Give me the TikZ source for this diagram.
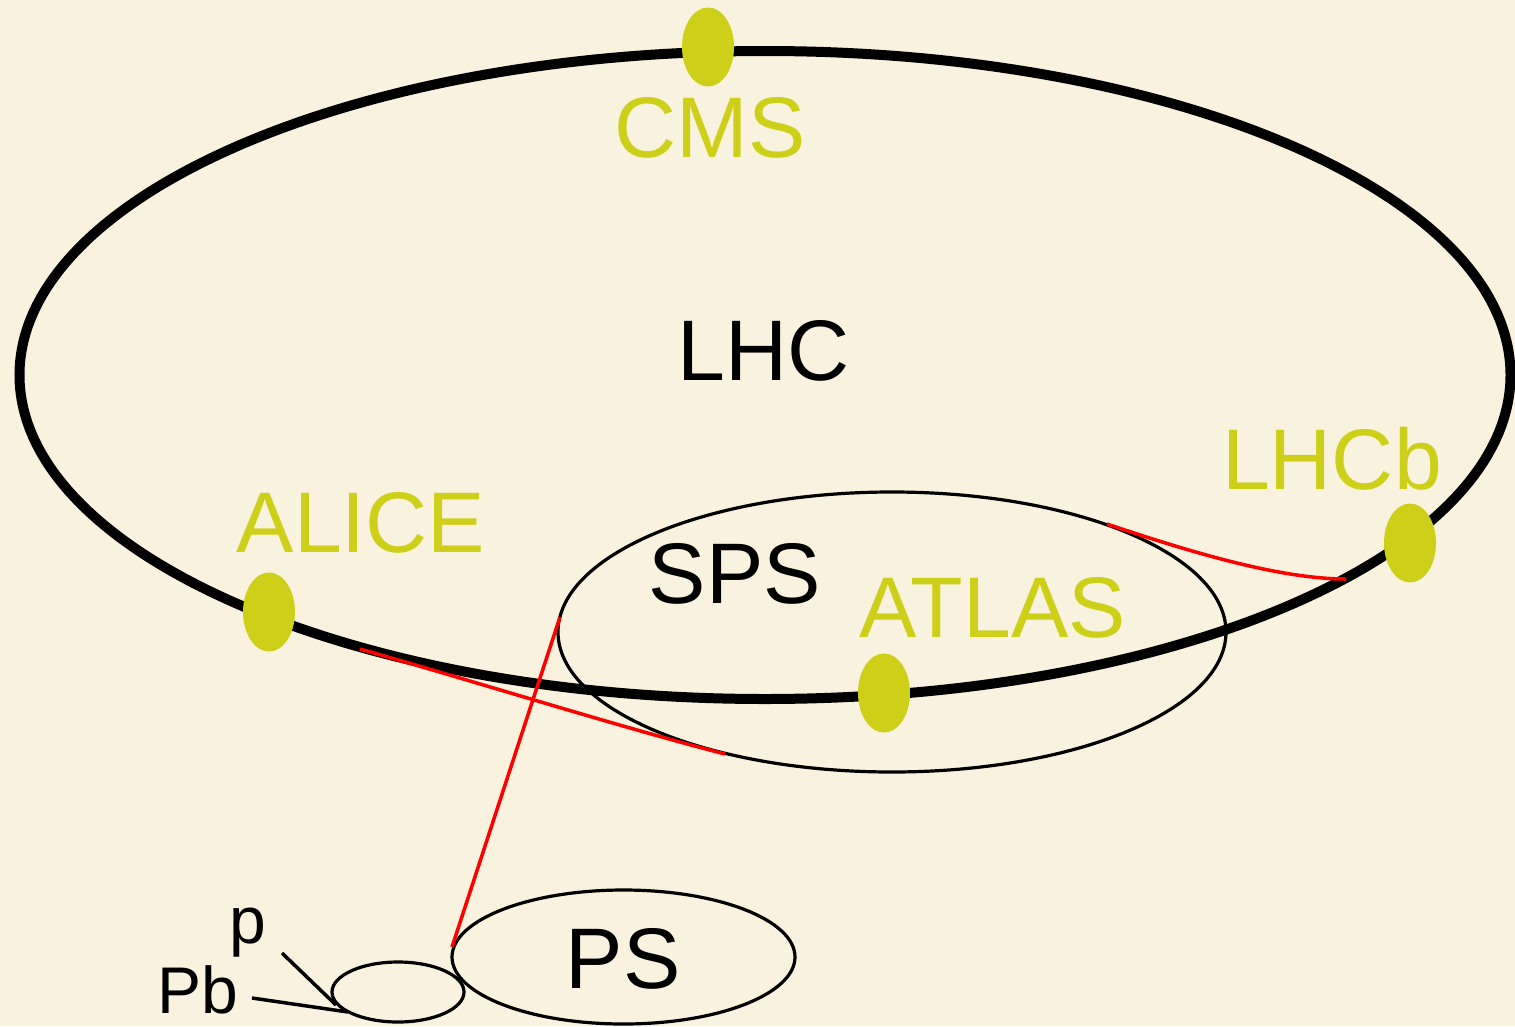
\documentclass[tikz,border=0pt]{standalone}
\usepackage{fontspec}
\setmainfont{Liberation Sans}
\usepackage{tikz}
\usetikzlibrary{shapes.geometric}
\definecolor{parchment}{RGB}{249,242,222}
\definecolor{exptyellow}{RGB}{205,207,24}
\tikzset{
  ring/.style={draw=black, line width=3.2pt},
  mainring/.style={draw=black, line width=10pt},
  beam/.style={draw=red, line width=3.5pt},
  feed/.style={draw=black, line width=3.5pt},
  expt/.style={ellipse, fill=exptyellow, draw=none, inner sep=0pt,
    minimum width=52pt, minimum height=79pt},
  ringname/.style={anchor=base, inner sep=0pt,
    font=\fontsize{86pt}{92pt}\selectfont},
  exptname/.style={ringname, text=exptyellow},
  ionname/.style={anchor=base, inner sep=0pt,
    font=\fontsize{66pt}{72pt}\selectfont}
}
\begin{document}
\begin{tikzpicture}[x=1pt,y=-1pt]
\useasboundingbox (0,0) rectangle (1515,1026);
\fill[parchment] (0,0) rectangle (1515,1026);
% rings
\draw[mainring] (765,375) ellipse [x radius=745.5pt, y radius=324pt];
\draw[ring] (892,632) ellipse [x radius=334pt, y radius=140pt];
\draw[ring] (623.5,957) ellipse [x radius=171.5pt, y radius=67pt];
\draw[ring] (398,992) ellipse [x radius=66pt, y radius=30pt];
% transfer points
\coordinate (psout) at (452,947);
\coordinate (spsin) at (560,617);
\coordinate (spsoutA) at (725,754);
\coordinate (lhcinA) at (360,649);
\coordinate (spsoutB) at (1107,524);
\coordinate (lhcinB) at (1346,579);
\coordinate (pin) at (336,1005);
\coordinate (pbin) at (348,1012);
\coordinate (pstart) at (282,953);
\coordinate (pbstart) at (252,998);
\draw[beam] (psout)--(spsin);
\draw[beam] (lhcinA) .. controls (480,683) and (620,727) .. (spsoutA);
\draw[beam] (spsoutB) .. controls (1190,552) and (1280,579) .. (lhcinB);
\draw[feed] (pstart)--(pin);
\draw[feed] (pbstart)--(pbin);
% experiments
\node[expt] (cmsdot) at (708,47) {};
\node[expt] (alicedot) at (269,612) {};
\node[expt] (atlasdot) at (884,693) {};
\node[expt] (lhcbdot) at (1410,543) {};
\node[exptname] (cms) at (710,157) {CMS};
\node[exptname] (alice) at (361,552) {ALICE};
\node[exptname] (atlas) at (993,637) {ATLAS};
\node[exptname] (lhcb) at (1332,489) {LHCb};
% names
\node[ringname] (lhc) at (764,380) {LHC};
\node[ringname] (sps) at (735,603) {SPS};
\node[ringname] (ps) at (623,988) {PS};
\node[ionname] (p) at (248,943) {p};
\node[ionname] (pb) at (198,1013) {Pb};
\end{tikzpicture}
\end{document}
